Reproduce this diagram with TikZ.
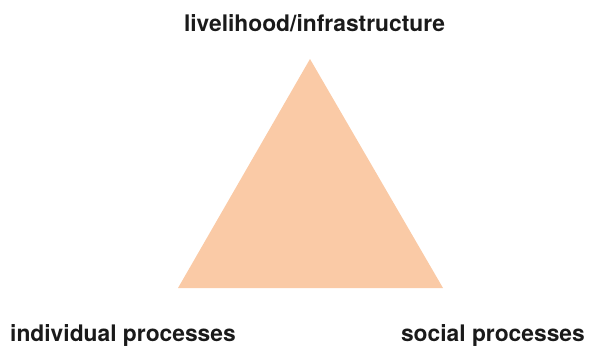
\documentclass[tikz,border=0pt]{standalone}
\usepackage{fontspec}
\setmainfont{TeX Gyre Heros}
\usetikzlibrary{positioning}
\definecolor{peach}{HTML}{FACAA6}
\definecolor{labelgray}{HTML}{1A1A1A}

\begin{document}
\begin{tikzpicture}[x=1pt, y=1pt]
% Define styles
\tikzstyle{corner} = [text=labelgray, font=\bfseries\fontsize{22.8}{26}\selectfont, inner sep=0pt]

% Frame
\useasboundingbox (0,0) rectangle (589,-351);

% Triangle
\coordinate (apex) at (310,-59);
\coordinate (left) at (178,-288);
\coordinate (right) at (443,-288);
\fill[peach] (apex) -- (left) -- (right) -- cycle;

% Labels
\node (livelihood) [corner, anchor=base] at (314.5,-31) {livelihood/infrastructure};
\node (individual) [corner, anchor=base west] at (10,-341) {individual processes};
\node (social) [corner, anchor=base east] at (585,-341) {social processes};
\end{tikzpicture}
\end{document}
